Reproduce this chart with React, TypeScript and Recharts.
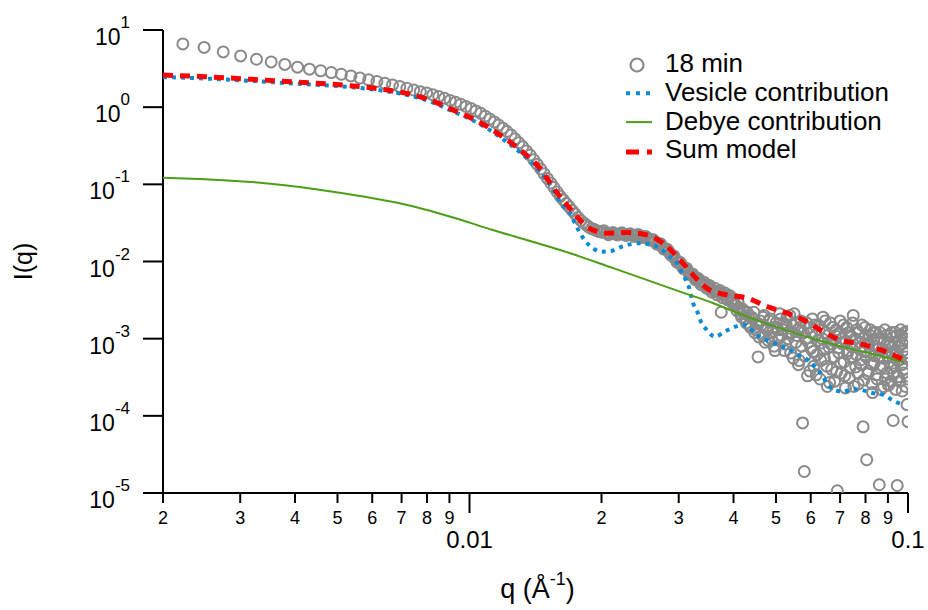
import React from 'react';
import { ComposedChart, XAxis, YAxis, Scatter, Legend } from 'recharts';

const FONT = '"Liberation Sans", Arial, Helvetica, sans-serif';

// ---------- axis ticks ----------
const xTicks = [0.002, 0.003, 0.004, 0.005, 0.006, 0.007, 0.008, 0.009, 0.01, 0.02, 0.03, 0.04, 0.05, 0.06, 0.07, 0.08, 0.09, 0.1];
const xTickLabels = ['2', '3', '4', '5', '6', '7', '8', '9', '0.01', '2', '3', '4', '5', '6', '7', '8', '9', '0.1'];
const yTicks = [1e-5, 1e-4, 1e-3, 1e-2, 1e-1, 1, 10];
const yTickExponents = ['-5', '-4', '-3', '-2', '-1', '0', '1'];

const legendLabels = ['18 min', 'Vesicle contribution', 'Debye contribution', 'Sum model'];

// ---------- measured data "18 min" : [q, I] ----------
const dataLowQ: [number, number][] = [
  [0.00222, 6.6], [0.002482, 5.95], [0.002744, 5.2], [0.003006, 4.62], [0.003268, 4.18], [0.00353, 3.86],
  [0.003792, 3.58], [0.004054, 3.3], [0.004316, 3.11], [0.004578, 2.96], [0.00484, 2.81], [0.005102, 2.67],
  [0.005364, 2.54], [0.005626, 2.38], [0.005888, 2.26], [0.00615, 2.15], [0.006412, 2.04], [0.006674, 1.94],
  [0.006936, 1.85], [0.007198, 1.76], [0.00746, 1.67], [0.007722, 1.59], [0.007984, 1.53], [0.008246, 1.45],
  [0.008508, 1.37], [0.00877, 1.3], [0.009032, 1.224], [0.009294, 1.154], [0.009556, 1.09], [0.009818, 1.02],
  [0.01008, 0.958], [0.010342, 0.893], [0.010604, 0.831], [0.010866, 0.764], [0.011128, 0.703], [0.01139, 0.643],
  [0.011652, 0.587], [0.011914, 0.534], [0.012176, 0.484], [0.012438, 0.437], [0.0127, 0.389], [0.012962, 0.346],
  [0.013224, 0.306], [0.013486, 0.271], [0.013748, 0.24], [0.01401, 0.208], [0.014272, 0.182], [0.014534, 0.158],
  [0.014796, 0.137], [0.015058, 0.119], [0.01532, 0.104], [0.015582, 0.091], [0.015844, 0.0796], [0.016106, 0.0699],
  [0.016368, 0.0628], [0.01663, 0.0564], [0.016892, 0.0507], [0.017154, 0.0457], [0.017416, 0.0413], [0.017678, 0.0373],
  [0.01794, 0.034], [0.018202, 0.0318], [0.018464, 0.0298], [0.018726, 0.0279], [0.018988, 0.0267], [0.01925, 0.0259],
  [0.019512, 0.0251], [0.019774, 0.0244], [0.020036, 0.024],
];

const dataMidQ: [number, number][] = [
  [0.0205, 0.0235], [0.021, 0.023], [0.0215, 0.0228], [0.022, 0.0228], [0.0225, 0.0226], [0.023, 0.0223],
  [0.0235, 0.0219], [0.024, 0.0217], [0.0245, 0.0215], [0.025, 0.0208], [0.0255, 0.02], [0.026, 0.0192],
  [0.0265, 0.018], [0.027, 0.0168], [0.0275, 0.0156], [0.028, 0.0144], [0.0285, 0.0133], [0.029, 0.0118],
  [0.0295, 0.0107], [0.03, 0.0097], [0.0305, 0.0088], [0.031, 0.0081], [0.0315, 0.0074], [0.032, 0.0068],
  [0.0325, 0.0064], [0.033, 0.0059], [0.0335, 0.0055], [0.034, 0.0052], [0.0345, 0.0049], [0.035, 0.0047],
  [0.0355, 0.0044], [0.036, 0.0042], [0.0365, 0.0041], [0.037, 0.004], [0.0375, 0.0022], [0.038, 0.0037],
  [0.0385, 0.0034], [0.039, 0.0036], [0.0395, 0.0031], [0.04, 0.0033],
];

const dataMidQB: [number, number][] = [
  [0.02025, 0.025], [0.02075, 0.0222], [0.02125, 0.0237], [0.02175, 0.0221], [0.02225, 0.0236], [0.02275, 0.0218],
  [0.02325, 0.0229], [0.02375, 0.0211], [0.02425, 0.0224], [0.02475, 0.0205], [0.02525, 0.0211], [0.02575, 0.019],
  [0.02625, 0.0191], [0.02675, 0.0168], [0.02725, 0.017], [0.02775, 0.0145], [0.02825, 0.0144], [0.02875, 0.0122],
  [0.02925, 0.0118], [0.02975, 0.0098], [0.03025, 0.0097], [0.03075, 0.0081], [0.03125, 0.0082], [0.03175, 0.0068],
  [0.03225, 0.0069], [0.03275, 0.0058], [0.03325, 0.006], [0.03375, 0.005], [0.03425, 0.0054], [0.03475, 0.0045],
  [0.03525, 0.0049], [0.03575, 0.004], [0.03625, 0.0045], [0.03675, 0.0037], [0.03725, 0.0042], [0.03775, 0.0034],
  [0.03825, 0.0039], [0.03875, 0.0032], [0.03925, 0.0036], [0.03975, 0.0029],
];

const dataHighQA: [number, number][] = [
  [0.0405, 2.7e-3], [0.041, 2.9e-3], [0.0415, 2.1e-3], [0.042, 2.4e-3], [0.0425, 1.8e-3], [0.043, 2.2e-3],
  [0.0435, 1.5e-3], [0.044, 1.9e-3], [0.0445, 2.2e-3], [0.045, 1.3e-3], [0.0455, 5.8e-4], [0.046, 1.7e-3],
  [0.0465, 1.1e-3], [0.047, 2.0e-3], [0.0475, 1.4e-3], [0.048, 9.5e-4], [0.0485, 1.8e-3], [0.049, 1.2e-3],
  [0.0495, 8.0e-4], [0.05, 1.6e-3], [0.0505, 1.3e-3], [0.051, 2.1e-3], [0.0515, 1.1e-3], [0.052, 1.6e-3],
  [0.0525, 8.5e-4], [0.053, 1.9e-3], [0.0535, 1.2e-3], [0.054, 6.5e-4], [0.0545, 1.5e-3], [0.055, 2.1e-3],
  [0.0555, 9.0e-4], [0.056, 1.3e-3], [0.0565, 5.2e-4], [0.057, 1.7e-3], [0.0575, 8.1e-5], [0.058, 1.9e-5],
  [0.0585, 1.0e-3], [0.059, 3.3e-4], [0.0595, 1.4e-3], [0.06, 7.5e-4], [0.0605, 1.8e-3], [0.061, 4.4e-4],
  [0.0615, 1.1e-3], [0.062, 6.2e-4], [0.0625, 1.5e-3], [0.063, 3.0e-4], [0.0635, 8.8e-4], [0.064, 1.9e-3],
  [0.0645, 5.5e-4], [0.065, 1.2e-3], [0.0655, 2.4e-4], [0.066, 7.8e-4], [0.0665, 1.6e-3], [0.067, 4.0e-4],
  [0.0675, 9.5e-4], [0.068, 2.8e-4], [0.0685, 1.3e-3], [0.069, 1.07e-5], [0.0695, 6.6e-4], [0.07, 1.7e-3],
  [0.0705, 3.6e-4], [0.071, 1.0e-3], [0.0715, 5.0e-4], [0.072, 2.3e-4], [0.0725, 1.4e-3], [0.073, 7.0e-4],
  [0.0735, 3.1e-4], [0.074, 1.1e-3], [0.0745, 5.8e-4], [0.075, 2.0e-3], [0.0755, 8.2e-4], [0.076, 4.3e-4],
  [0.0765, 1.3e-3], [0.077, 2.6e-4], [0.0775, 9.0e-4], [0.078, 5.3e-4], [0.0785, 1.5e-3], [0.079, 7.2e-5],
  [0.0795, 6.8e-4], [0.08, 1.1e-3], [0.0805, 2.7e-5], [0.081, 3.5e-4], [0.0815, 8.5e-4], [0.082, 1.3e-3],
  [0.0825, 4.7e-4], [0.083, 2.0e-4], [0.0835, 9.8e-4], [0.084, 6.0e-4], [0.0845, 1.2e-3], [0.085, 3.0e-4],
  [0.0855, 7.4e-4], [0.086, 1.28e-5], [0.0865, 4.2e-4], [0.087, 1.0e-3], [0.0875, 5.6e-4], [0.088, 2.4e-4],
  [0.0885, 1.3e-3], [0.089, 6.8e-4], [0.0895, 3.6e-4], [0.09, 8.8e-4], [0.0905, 5.0e-4], [0.091, 1.1e-3],
  [0.0915, 2.8e-4], [0.092, 7.6e-4], [0.0925, 8.7e-5], [0.093, 4.5e-4], [0.0935, 1.2e-3], [0.094, 6.2e-4],
  [0.0945, 1.25e-5], [0.095, 3.2e-4], [0.0955, 9.2e-4], [0.096, 5.4e-4], [0.0965, 1.1e-3], [0.097, 2.1e-4],
  [0.0975, 7.0e-4], [0.098, 4.0e-4], [0.0985, 1.0e-3], [0.099, 5.8e-4], [0.0995, 1.4e-4], [0.1, 1.24e-3],
  [0.1, 8.4e-5], [0.0998, 3.0e-4],
];

const dataHighQB: [number, number][] = [
  [0.04025, 2.8e-3], [0.04075, 2.3e-3], [0.04125, 2.5e-3], [0.04175, 1.9e-3], [0.04225, 2.2e-3], [0.04275, 1.6e-3],
  [0.04325, 2.0e-3], [0.04375, 1.4e-3], [0.04425, 1.8e-3], [0.04475, 1.2e-3], [0.04525, 1.6e-3], [0.04575, 1.05e-3],
  [0.04625, 1.5e-3], [0.04675, 1.9e-3], [0.04725, 9.0e-4], [0.04775, 1.3e-3], [0.04825, 1.7e-3], [0.04875, 1.0e-3],
  [0.04925, 1.4e-3], [0.04975, 7.0e-4], [0.05025, 1.4e-3], [0.05075, 1.0e-3], [0.05125, 1.8e-3], [0.05175, 1.3e-3],
  [0.05225, 7.0e-4], [0.05275, 1.5e-3], [0.05325, 1.0e-3], [0.05375, 2.0e-3], [0.05425, 1.2e-3], [0.05475, 5.6e-4],
  [0.05525, 1.6e-3], [0.05575, 1.1e-3], [0.05625, 4.6e-4], [0.05675, 1.4e-3], [0.05725, 8.0e-4], [0.05775, 1.2e-3],
  [0.05825, 6.0e-4], [0.05875, 1.6e-3], [0.05925, 9.0e-4], [0.05975, 3.8e-4], [0.06025, 1.2e-3], [0.06075, 6.8e-4],
  [0.06125, 1.5e-3], [0.06175, 3.4e-4], [0.06225, 9.5e-4], [0.06275, 1.3e-3], [0.06325, 5.2e-4], [0.06375, 1.0e-3],
  [0.06425, 7.2e-4], [0.06475, 1.7e-3], [0.06525, 4.4e-4], [0.06575, 1.1e-3], [0.06625, 2.7e-4], [0.06675, 8.5e-4],
  [0.06725, 1.4e-3], [0.06775, 5.8e-4], [0.06825, 1.1e-3], [0.06875, 3.7e-4], [0.06925, 7.6e-4], [0.06975, 1.2e-3],
  [0.07025, 4.8e-4], [0.07075, 8.6e-4], [0.07125, 1.5e-3], [0.07175, 3.3e-4], [0.07225, 9.2e-4], [0.07275, 6.4e-4],
  [0.07325, 1.2e-3], [0.07375, 4.2e-4], [0.07425, 8.0e-4], [0.07475, 1.6e-3], [0.07525, 2.4e-4], [0.07575, 1.0e-3],
  [0.07625, 6.2e-4], [0.07675, 3.6e-4], [0.07725, 1.2e-3], [0.07775, 7.6e-4], [0.07825, 4.6e-4], [0.07875, 1.0e-3],
  [0.07925, 2.9e-4], [0.07975, 1.4e-3], [0.08025, 5.8e-4], [0.08075, 8.6e-4], [0.08125, 3.8e-4], [0.08175, 1.1e-3],
  [0.08225, 6.6e-4], [0.08275, 2.6e-4], [0.08325, 1.2e-3], [0.08375, 4.8e-4], [0.08425, 8.0e-4], [0.08475, 3.4e-4],
  [0.08525, 1.0e-3], [0.08575, 5.8e-4], [0.08625, 1.2e-3], [0.08675, 2.2e-4], [0.08725, 7.2e-4], [0.08775, 4.4e-4],
  [0.08825, 9.6e-4], [0.08875, 3.0e-4], [0.08925, 1.1e-3], [0.08975, 6.0e-4], [0.09025, 2.5e-4], [0.09075, 8.0e-4],
  [0.09125, 4.2e-4], [0.09175, 1.2e-3], [0.09225, 6.4e-4], [0.09275, 3.5e-4], [0.09325, 9.0e-4], [0.09375, 2.2e-4],
  [0.09425, 1.1e-3], [0.09475, 5.2e-4], [0.09525, 7.8e-4], [0.09575, 2.8e-4], [0.09625, 1.3e-3], [0.09675, 4.6e-4],
  [0.09725, 8.6e-4], [0.09775, 3.6e-4], [0.09825, 1.2e-3], [0.09875, 2.4e-4], [0.09925, 6.6e-4], [0.09975, 1.1e-3],
];

// ---------- model curves : [q, I] ----------
const vesicleCurve: [number, number][] = [
  [0.002, 2.46], [0.0025, 2.35], [0.00316, 2.19], [0.004, 2.02], [0.00534, 1.82], [0.0065, 1.6],
  [0.00759, 1.34], [0.00812, 1.19], [0.00916, 0.88], [0.01, 0.71], [0.01098, 0.53], [0.012, 0.375],
  [0.01304, 0.26], [0.01426, 0.16], [0.01554, 0.0846], [0.01624, 0.0541], [0.01695, 0.0422], [0.0174, 0.0313],
  [0.01787, 0.0233], [0.0183, 0.019], [0.0191, 0.0149], [0.02005, 0.0134], [0.02114, 0.0138], [0.02226, 0.0156],
  [0.02344, 0.0169], [0.02467, 0.0173], [0.026, 0.0164], [0.0272, 0.0149], [0.0283, 0.0122], [0.02976, 0.0095],
  [0.03074, 0.0066], [0.03156, 0.0049], [0.03234, 0.0029], [0.03322, 0.0021], [0.03358, 0.00175], [0.03476, 0.0013],
  [0.0363, 0.00106], [0.03826, 0.00124], [0.0404, 0.00143], [0.042, 0.00151], [0.044, 0.0013], [0.0458, 0.00106],
  [0.0484, 0.00092], [0.051, 0.00081], [0.0538, 0.00072], [0.0561, 0.00062], [0.0588, 0.00054], [0.0613, 0.000435],
  [0.0636, 0.00034], [0.0653, 0.000265], [0.0673, 0.000222], [0.0711, 0.000206], [0.075, 0.000222], [0.079, 0.000214],
  [0.0832, 0.000197], [0.0876, 0.000188], [0.0925, 0.000158], [0.098, 0.000135],
];

const debyeCurve: [number, number][] = [
  [0.002, 0.122], [0.0025, 0.116], [0.00333, 0.105], [0.0045, 0.086], [0.00562, 0.0708], [0.0068, 0.058],
  [0.008, 0.0466], [0.0095, 0.035], [0.0113, 0.0256], [0.0135, 0.019], [0.0161, 0.0141], [0.0212, 0.00826],
  [0.0302, 0.00407], [0.036, 0.00288], [0.043, 0.00192], [0.051, 0.00137], [0.0608, 0.001], [0.0726, 0.00076],
  [0.0864, 0.0006], [0.098, 0.00049],
];

const sumCurve: [number, number][] = [
  [0.002, 2.61], [0.0025, 2.48], [0.00316, 2.3], [0.004, 2.12], [0.00534, 1.9], [0.0065, 1.67],
  [0.00759, 1.4], [0.00812, 1.24], [0.00916, 0.92], [0.01, 0.74], [0.01098, 0.559], [0.012, 0.4],
  [0.01304, 0.279], [0.01426, 0.178], [0.01528, 0.104], [0.01612, 0.068], [0.0172, 0.0443], [0.01852, 0.0283],
  [0.0195, 0.0245], [0.02058, 0.0233], [0.02288, 0.0237], [0.02538, 0.0221], [0.0276, 0.0173], [0.0302, 0.0105],
  [0.03234, 0.0067], [0.03476, 0.00451], [0.0386, 0.00369], [0.043, 0.00335], [0.0477, 0.00261], [0.053, 0.00214],
  [0.0578, 0.00175], [0.064, 0.00124], [0.0699, 0.00096], [0.0778, 0.00086], [0.0864, 0.00072], [0.098, 0.00053],
];

const toRows = (pairs: [number, number][]) => pairs.map(([q, I]) => ({ q, I }));

const scatterRows = toRows([...dataLowQ, ...dataMidQ, ...dataMidQB, ...dataHighQA, ...dataHighQB]);
const vesicleRows = toRows(vesicleCurve);
const debyeRows = toRows(debyeCurve);
const sumRows = toRows(sumCurve);

const GRAY = '#8a8a8a';
const BLUE = '#0a8ad2';
const GREEN = '#4c9e16';
const RED = '#ff0000';

const Ring = (props: any) => {
  const { cx, cy } = props;
  if (cx == null || cy == null || !isFinite(cx) || !isFinite(cy)) return <g />;
  return <circle cx={cx} cy={cy} r={5.5} fill="none" stroke={GRAY} strokeWidth={2} />;
};

const NoMark = () => <g />;

const XTick = (props: any) => {
  const { x, y, payload } = props;
  const i = xTicks.indexOf(payload.value);
  const label = xTickLabels[i] ?? '';
  const major = label.includes('.');
  return (
    <g>
      <line x1={x} x2={x} y1={y} y2={y + (major ? 20 : 10)} stroke="#000" strokeWidth={2} />
      <text
        x={x}
        y={y + (major ? 55 : 31)}
        textAnchor="middle"
        fontFamily={FONT}
        fontSize={major ? 24 : 18}
        fill="#000"
      >
        {label}
      </text>
    </g>
  );
};

const YTick = (props: any) => {
  const { x, y, payload } = props;
  const i = yTicks.indexOf(payload.value);
  return (
    <g>
      <line x1={x - 20} x2={x} y1={y} y2={y} stroke="#000" strokeWidth={2} />
      <text x={x - 33} y={y + 15} textAnchor="end" fontFamily={FONT} fill="#000">
        <tspan fontSize={23}>10</tspan>
        <tspan fontSize={17} dy={-17}>{yTickExponents[i]}</tspan>
      </text>
    </g>
  );
};

const XTitle = (props: any) => {
  const vb = props.viewBox || { x: 163, y: 493, width: 745, height: 117 };
  const cx = vb.x + vb.width / 2 + 2;
  return (
    <text x={cx} y={vb.y + 105} textAnchor="middle" fontFamily={FONT} fontSize={27} fill="#000">
      q (Å<tspan fontSize={18} dy={-13}>-1</tspan>
      <tspan dy={13}>)</tspan>
    </text>
  );
};

const YTitle = (props: any) => {
  const vb = props.viewBox || { x: 0, y: 30, width: 163, height: 463 };
  const cy = vb.y + vb.height / 2;
  const x = vb.x + 32;
  return (
    <text
      x={x}
      y={cy}
      transform={`rotate(-90, ${x}, ${cy})`}
      textAnchor="middle"
      fontFamily={FONT}
      fontSize={25}
      fill="#000"
    >
      I(q)
    </text>
  );
};

const LegendBox = () => (
  <svg width={300} height={125} style={{ display: 'block', overflow: 'visible' }}>
    {legendLabels.map((label, i) => {
      const base = 24 + i * 28.8;
      const cy = base - 7.5;
      let icon: React.ReactNode = null;
      if (i === 0) icon = <circle cx={17} cy={cy + 0.5} r={6.5} fill="none" stroke={GRAY} strokeWidth={2.2} />;
      if (i === 1) icon = <line x1={6} x2={32} y1={cy} y2={cy} stroke={BLUE} strokeWidth={4} strokeDasharray="4 6" />;
      if (i === 2) icon = <line x1={6} x2={32} y1={cy} y2={cy} stroke={GREEN} strokeWidth={2} />;
      if (i === 3) icon = <line x1={6} x2={32} y1={cy + 1} y2={cy + 1} stroke={RED} strokeWidth={5} strokeDasharray="13 8" />;
      return (
        <g key={label}>
          {icon}
          <text x={45} y={base} fontFamily={FONT} fontSize={26} fill="#000">
            {label}
          </text>
        </g>
      );
    })}
  </svg>
);

export default function App() {
  return (
    <div style={{ position: 'absolute', left: 0, top: 0, width: 928, height: 610, background: '#fff' }}>
      <ComposedChart width={928} height={610} margin={{ top: 30, right: 20, bottom: 0, left: 0 }}>
        <XAxis
          dataKey="q"
          type="number"
          scale="log"
          domain={[0.002, 0.1]}
          allowDataOverflow
          ticks={xTicks}
          interval={0}
          tickSize={0}
          tickMargin={0}
          tickLine={false}
          tick={<XTick />}
          axisLine={{ stroke: '#000', strokeWidth: 2 }}
          height={117}
          label={XTitle}
        />
        <YAxis
          dataKey="I"
          type="number"
          scale="log"
          domain={[1e-5, 10]}
          allowDataOverflow
          ticks={yTicks}
          interval={0}
          tickSize={0}
          tickMargin={0}
          tickLine={false}
          tick={<YTick />}
          axisLine={{ stroke: '#000', strokeWidth: 2 }}
          width={163}
          label={YTitle}
        />
        <Legend
          layout="vertical"
          align="center"
          verticalAlign="middle"
          content={() => <LegendBox />}
          wrapperStyle={{ left: 620, top: 48, width: 300, height: 125 }}
        />
        <Scatter name="18 min" data={scatterRows} dataKey="I" shape={<Ring />} isAnimationActive={false} />
        <Scatter
          name="Vesicle contribution"
          data={vesicleRows}
          dataKey="I"
          shape={<NoMark />}
          line={{ stroke: BLUE, strokeWidth: 4, strokeDasharray: '4 5', fill: 'none' }}
          lineType="joint"
          lineJointType="monotoneX"
          isAnimationActive={false}
        />
        <Scatter
          name="Debye contribution"
          data={debyeRows}
          dataKey="I"
          shape={<NoMark />}
          line={{ stroke: GREEN, strokeWidth: 2, fill: 'none' }}
          lineType="joint"
          lineJointType="monotoneX"
          isAnimationActive={false}
        />
        <Scatter
          name="Sum model"
          data={sumRows}
          dataKey="I"
          shape={<NoMark />}
          line={{ stroke: RED, strokeWidth: 5, strokeDasharray: '10 7', fill: 'none' }}
          lineType="joint"
          lineJointType="monotoneX"
          isAnimationActive={false}
        />
      </ComposedChart>
    </div>
  );
}
